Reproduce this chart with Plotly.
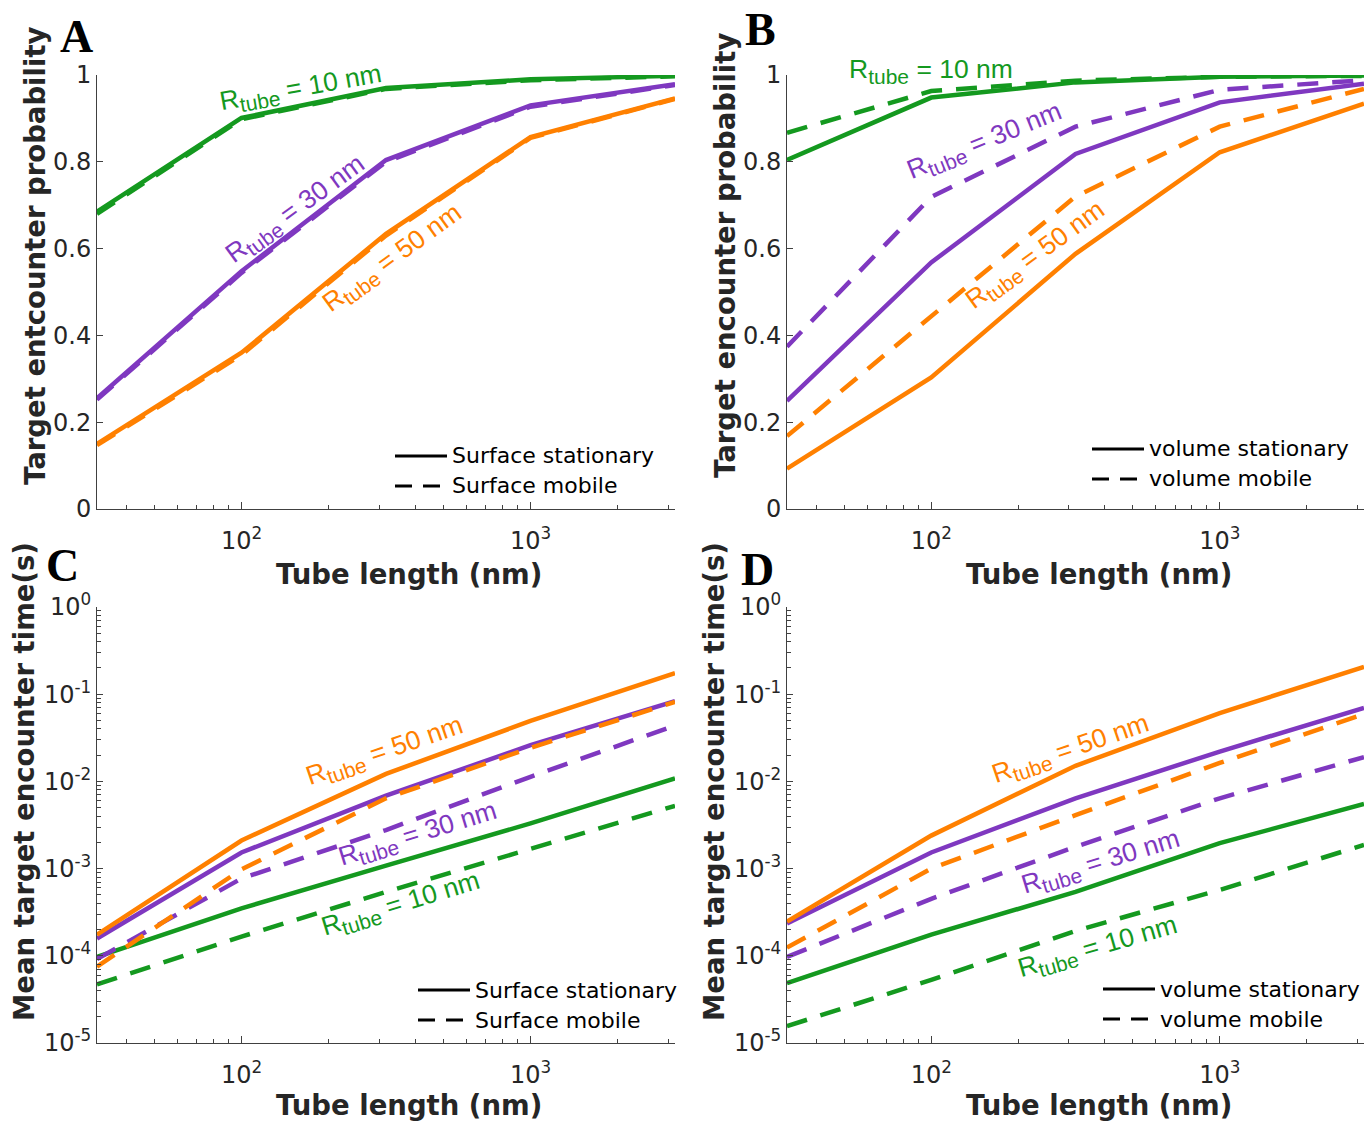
import plotly.graph_objects as go

W, H = 1372, 1123

# ---------------- data ----------------
tube_length = [31.62, 100, 316.2, 1000, 3162]

# Panel A: surface, encounter probability
A_stat_10 = [0.685, 0.901, 0.970, 0.990, 0.998]
A_mob_10 = [0.680, 0.898, 0.968, 0.988, 0.997]
A_stat_30 = [0.255, 0.548, 0.804, 0.930, 0.979]
A_mob_30 = [0.252, 0.544, 0.800, 0.927, 0.977]
A_stat_50 = [0.150, 0.360, 0.634, 0.857, 0.946]
A_mob_50 = [0.147, 0.355, 0.630, 0.855, 0.945]

# Panel B: volume, encounter probability
B_stat_10 = [0.804, 0.948, 0.983, 0.996, 0.999]
B_mob_10 = [0.867, 0.963, 0.987, 0.996, 0.998]
B_stat_30 = [0.249, 0.568, 0.818, 0.937, 0.980]
B_mob_30 = [0.374, 0.719, 0.881, 0.966, 0.988]
B_stat_50 = [0.093, 0.303, 0.588, 0.822, 0.934]
B_mob_50 = [0.168, 0.445, 0.720, 0.881, 0.968]

# Panel C: surface, mean encounter time (s)
C_stat_10 = [9.7e-5, 3.5e-4, 1.08e-3, 3.3e-3, 0.0108]
C_mob_10 = [4.7e-5, 1.66e-4, 5.4e-4, 1.69e-3, 5.25e-3]
C_stat_30 = [1.58e-4, 1.53e-3, 6.86e-3, 0.026, 0.083]
C_mob_30 = [9.2e-5, 7.7e-4, 2.77e-3, 0.0113, 0.0438]
C_stat_50 = [1.75e-4, 2.1e-3, 0.0122, 0.0493, 0.174]
C_mob_50 = [7.5e-5, 9.8e-4, 6.4e-3, 0.0243, 0.0816]

# Panel D: volume, mean encounter time (s)
D_stat_10 = [4.85e-5, 1.75e-4, 5.4e-4, 1.96e-3, 5.5e-3]
D_mob_10 = [1.56e-5, 5.3e-5, 1.93e-4, 5.7e-4, 1.87e-3]
D_stat_30 = [2.35e-4, 1.53e-3, 6.4e-3, 0.022, 0.0697]
D_mob_30 = [9.7e-5, 4.5e-4, 1.78e-3, 6.4e-3, 0.019]
D_stat_50 = [2.47e-4, 2.39e-3, 0.0151, 0.0607, 0.206]
D_mob_50 = [1.24e-4, 1.0e-3, 4.1e-3, 0.0163, 0.059]

x_tickvals = [100, 1000]
x_ticktext = ["10<sup>2</sup>", "10<sup>3</sup>"]
x_minor = [40, 50, 60, 70, 80, 90, 200, 300, 400, 500, 600, 700, 800, 900, 2000, 3000]
p_tickvals = [0, 0.2, 0.4, 0.6, 0.8, 1]
p_ticktext = ["0", "0.2", "0.4", "0.6", "0.8", "1"]
t_tickvals = [1e-5, 1e-4, 1e-3, 1e-2, 1e-1, 1]
t_ticktext = ["10<sup>-5</sup>", "10<sup>-4</sup>", "10<sup>-3</sup>",
              "10<sup>-2</sup>", "10<sup>-1</sup>", "10<sup>0</sup>"]
t_minor = [m * 10.0 ** e for e in range(-5, 0) for m in range(2, 10)]

GREEN, PURPLE, ORANGE = "#14991f", "#7f38c0", "#ff8000"
DASH = "21px,14px"
LEGDASH = "17px,11px"

fig = go.Figure()

panels = {
    "A": ("x", "y", [(A_stat_10, A_mob_10, GREEN), (A_stat_30, A_mob_30, PURPLE), (A_stat_50, A_mob_50, ORANGE)]),
    "B": ("x2", "y2", [(B_stat_10, B_mob_10, GREEN), (B_stat_30, B_mob_30, PURPLE), (B_stat_50, B_mob_50, ORANGE)]),
    "C": ("x3", "y3", [(C_stat_10, C_mob_10, GREEN), (C_stat_30, C_mob_30, PURPLE), (C_stat_50, C_mob_50, ORANGE)]),
    "D": ("x4", "y4", [(D_stat_10, D_mob_10, GREEN), (D_stat_30, D_mob_30, PURPLE), (D_stat_50, D_mob_50, ORANGE)]),
}
for key, (xa, ya, series) in panels.items():
    for stat, mob, col in series:
        fig.add_trace(go.Scatter(x=tube_length, y=mob, mode="lines", xaxis=xa, yaxis=ya,
                                 line=dict(color=col, width=4.5, dash=DASH), showlegend=False))
        fig.add_trace(go.Scatter(x=tube_length, y=stat, mode="lines", xaxis=xa, yaxis=ya,
                                 line=dict(color=col, width=4.5), showlegend=False))

def px_x(p):
    return p / W

def px_y(p):
    return 1 - p / H

TICKFONT = dict(family="DejaVu Sans", size=24, color="#262626")
AXCOL = "#404040"

def xaxis(dom):
    return dict(type="log", range=[1.5, 3.5], domain=dom, showgrid=False, zeroline=False,
                automargin=False,
                showline=True, linecolor=AXCOL, linewidth=1, mirror=False,
                ticks="inside", ticklen=7, tickcolor=AXCOL, tickwidth=1,
                tickmode="array", tickvals=x_tickvals, ticktext=x_ticktext,
                tickfont=TICKFONT, ticklabelstandoff=10,
                minor=dict(ticks="inside", ticklen=4, tickcolor=AXCOL, tickwidth=1,
                           tickmode="array", tickvals=x_minor, showgrid=False))

def yaxis_p(dom, anchor):
    return dict(range=[0, 1], domain=dom, anchor=anchor, showgrid=False, zeroline=False,
                automargin=False,
                showline=True, linecolor=AXCOL, linewidth=1,
                ticks="inside", ticklen=6, tickcolor=AXCOL, tickwidth=1,
                tickmode="array", tickvals=p_tickvals, ticktext=p_ticktext,
                tickfont=TICKFONT)

def yaxis_t(dom, anchor):
    return dict(type="log", range=[-5, 0], domain=dom, anchor=anchor, showgrid=False, zeroline=False,
                automargin=False,
                showline=True, linecolor=AXCOL, linewidth=1,
                ticks="inside", ticklen=6, tickcolor=AXCOL, tickwidth=1,
                tickmode="array", tickvals=t_tickvals, ticktext=t_ticktext,
                tickfont=TICKFONT,
                minor=dict(ticks="inside", ticklen=4, tickcolor=AXCOL, tickwidth=1,
                           tickmode="array", tickvals=t_minor, showgrid=False))

xl_dom = [px_x(97), px_x(675)]
xr_dom = [px_x(787), px_x(1364)]
yt_dom = [px_y(509), px_y(75)]
yb_dom = [px_y(1043), px_y(607)]

fig.update_layout(
    width=W, height=H, margin=dict(l=0, r=0, t=0, b=0, autoexpand=False),
    paper_bgcolor="white", plot_bgcolor="white", showlegend=False,
    xaxis=dict(**xaxis(xl_dom), anchor="y"),
    yaxis=yaxis_p(yt_dom, "x"),
    xaxis2=dict(**xaxis(xr_dom), anchor="y2"),
    yaxis2=yaxis_p(yt_dom, "x2"),
    xaxis3=dict(**xaxis(xl_dom), anchor="y3"),
    yaxis3=yaxis_t(yb_dom, "x3"),
    xaxis4=dict(**xaxis(xr_dom), anchor="y4"),
    yaxis4=yaxis_t(yb_dom, "x4"),
)

ann = []
TITLEFONT = dict(family="DejaVu Sans", size=27.5, color="#262626")

def add_text(text, x, y, font, angle=0, xanchor="center", yanchor="middle"):
    ann.append(dict(text=text, x=px_x(x), y=px_y(y), xref="paper", yref="paper",
                    showarrow=False, font=font, textangle=angle,
                    xanchor=xanchor, yanchor=yanchor))

# axis titles
for cx in (409, 1099):
    add_text("<b>Tube length (nm)</b>", cx, 574, TITLEFONT)
    add_text("<b>Tube length (nm)</b>", cx, 1105, TITLEFONT)
add_text("<b>Target entcounter probability</b>", 35, 256, TITLEFONT, angle=-90)
add_text("<b>Target encounter probability</b>", 725, 256, TITLEFONT, angle=-90)
add_text("<b>Mean target encounter time(s)</b>", 24, 782, TITLEFONT, angle=-90)
add_text("<b>Mean target encounter time(s)</b>", 714, 782, TITLEFONT, angle=-90)

# panel letters
LETTERFONT = dict(family="Liberation Serif", size=46, color="black")
add_text("<b>A</b>", 76, 36, LETTERFONT)
add_text("<b>B</b>", 760, 29, LETTERFONT)
add_text("<b>C</b>", 62, 565, LETTERFONT)
add_text("<b>D</b>", 757, 569, LETTERFONT)

# curve labels
def rlabel(val):
    return 'R<sub><span style="font-size:21px">tube</span></sub> = %d nm' % val

def lblfont(col):
    return dict(family="Liberation Sans", size=26.5, color=col)

add_text(rlabel(10), 301, 89, lblfont(GREEN), angle=-10)
add_text(rlabel(30), 296, 210, lblfont(PURPLE), angle=-36)
add_text(rlabel(50), 393, 259, lblfont(ORANGE), angle=-36)

add_text(rlabel(10), 931, 71, lblfont(GREEN), angle=0)
add_text(rlabel(30), 985, 142, lblfont(PURPLE), angle=-22)
add_text(rlabel(50), 1036, 256, lblfont(ORANGE), angle=-36)

add_text(rlabel(50), 385, 752, lblfont(ORANGE), angle=-19)
add_text(rlabel(30), 418, 835, lblfont(PURPLE), angle=-17)
add_text(rlabel(10), 401, 905, lblfont(GREEN), angle=-17)

add_text(rlabel(50), 1071, 750, lblfont(ORANGE), angle=-19)
add_text(rlabel(30), 1101, 863, lblfont(PURPLE), angle=-17)
add_text(rlabel(10), 1098, 948, lblfont(GREEN), angle=-16)

# legends (manual)
LEGFONT = dict(family="DejaVu Sans", size=22, color="black")
shapes = []
legends = [
    (395, 456, "Surface stationary", "Surface mobile"),
    (1092, 449, "volume stationary", "volume mobile"),
    (418, 990, "Surface stationary", "Surface mobile"),
    (1103, 989, "volume stationary", "volume mobile"),
]
for lx, ly, t1, t2 in legends:
    shapes.append(dict(type="line", xref="paper", yref="paper",
                       x0=px_x(lx), x1=px_x(lx + 52), y0=px_y(ly), y1=px_y(ly),
                       line=dict(color="black", width=3)))
    shapes.append(dict(type="line", xref="paper", yref="paper",
                       x0=px_x(lx), x1=px_x(lx + 52), y0=px_y(ly + 30), y1=px_y(ly + 30),
                       line=dict(color="black", width=3, dash=LEGDASH)))
    add_text(t1, lx + 55, ly, LEGFONT, xanchor="left")
    add_text(t2, lx + 55, ly + 30, LEGFONT, xanchor="left")

fig.update_layout(annotations=ann, shapes=shapes)
fig.write_html("out.html")
